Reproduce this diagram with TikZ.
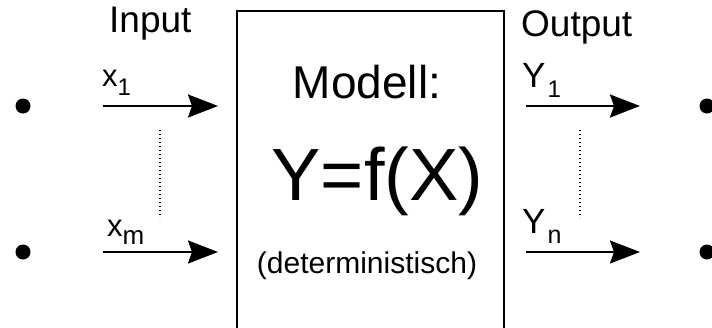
\documentclass[tikz,border=0pt]{standalone}
\usepackage{fontspec}
\setmainfont{Liberation Sans}
\usetikzlibrary{arrows.meta}
\begin{document}
\begin{tikzpicture}[x=1pt,y=-1pt,
  conn/.style={line width=2pt,-{Stealth[length=30pt,width=23pt,inset=4pt]}},
  dotnode/.style={circle,fill=black,draw=none,inner sep=0pt,minimum size=15pt},
  lbl/.style={inner sep=0pt,anchor=base west},
  big/.style={font=\fontsize{37}{40}\selectfont},
  sub/.style={font=\fontsize{31}{34}\selectfont},
  dots/.style={line width=1.4pt,dash pattern=on 1.4pt off 2.6pt},
  box/.style={draw=black,line width=2pt}]
\clip (0,0) rectangle (712,327);
\fill[white] (0,0) rectangle (712,327);
% box
\draw[box] (236.5,10.5) rectangle (504,330);
\node[inner sep=0pt,anchor=base] (modell) at (367,98) {\fontsize{46}{50}\selectfont Modell:};
\node[inner sep=0pt,anchor=base] (eq) at (377.5,200) {\fontsize{74}{80}\selectfont Y=f(X)};
\node[inner sep=0pt,anchor=base] (det) at (367,273) {\fontsize{30}{34}\selectfont (deterministisch)};
% labels
\node[lbl,big] (input) at (109,32) {Input};
\node[lbl,big] (output) at (521,36) {Output};
% left dots
\node[dotnode] (d1) at (23,106) {};
\node[dotnode] (dm) at (23,252) {};
% right dots
\node[dotnode] (e1) at (707,106) {};
\node[dotnode] (en) at (707,252) {};
% arrows
\coordinate (a1s) at (103,106);
\coordinate (a1e) at (218,106);
\coordinate (ams) at (103,252);
\coordinate (ame) at (218,252);
\coordinate (b1s) at (526,106);
\coordinate (b1e) at (640,106);
\coordinate (bns) at (526,252);
\coordinate (bne) at (640,252);
\draw[conn] (a1s) -- (a1e);
\draw[conn] (ams) -- (ame);
\draw[conn] (b1s) -- (b1e);
\draw[conn] (bns) -- (bne);
% arrow labels
\node[lbl,sub] (x1) at (102,86) {x\raisebox{-9pt}{\fontsize{24}{26}\selectfont 1}};
\node[lbl,sub] (xm) at (107,236) {x\raisebox{-8pt}{\fontsize{26}{28}\selectfont m}};
\node[lbl,font=\fontsize{35}{37}\selectfont] (y1) at (522,87) {Y\kern2pt\raisebox{-10pt}{\fontsize{24}{26}\selectfont 1}};
\node[lbl,font=\fontsize{35}{37}\selectfont] (yn) at (522,233) {Y\kern2pt\raisebox{-10pt}{\fontsize{25}{27}\selectfont n}};
% dotted separators
\coordinate (p1) at (160,130);
\coordinate (p2) at (160,218);
\coordinate (q1) at (580,130);
\coordinate (q2) at (580,218);
\draw[dots] (p1) -- (p2);
\draw[dots] (q1) -- (q2);
\end{tikzpicture}
\end{document}
